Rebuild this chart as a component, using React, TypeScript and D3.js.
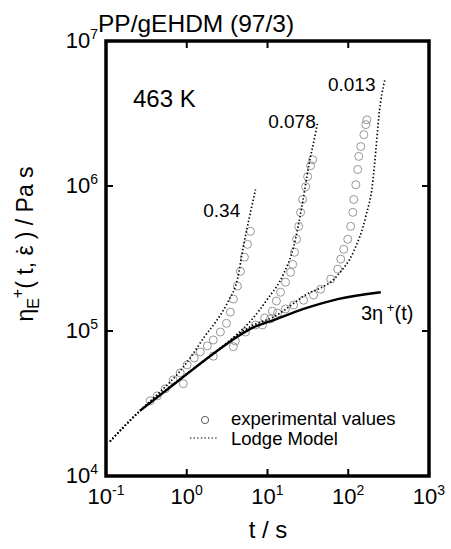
import React from "react";
import * as d3 from "d3";

// ---- data (t [s], eta [Pa s]) ----
const xTicks = [0.1, 1, 10, 100, 1000];
const xTickExp = ["-1", "0", "1", "2", "3"];
const yTicks = [1e4, 1e5, 1e6, 1e7];
const yTickExp = ["4", "5", "6", "7"];

const lve3: [number, number][] = [
  [0.264, 2.82e4], [0.72, 4.36e4], [1.96, 6.73e4], [6.7, 1.06e5],
  [11.9, 1.19e5], [28, 1.42e5], [74, 1.66e5], [253, 1.85e5],
];

const lodge034: [number, number][] = [
  [0.112, 1.73e4], [0.264, 2.82e4], [0.469, 3.81e4], [0.83, 5.31e4],
  [1.17, 6.84e4], [1.65, 9.1e4], [2.32, 1.17e5], [3.28, 1.61e5],
  [4.24, 2.27e5], [5.03, 3.84e5], [5.65, 5.27e5], [6.15, 6.58e5], [7.1, 9.46e5],
];
const lodge0078: [number, number][] = [
  [0.112, 1.73e4], [0.264, 2.82e4], [0.72, 4.39e4], [1.96, 6.73e4],
  [3.47, 8.67e4], [6.15, 1.17e5], [10, 1.66e5], [15.8, 2.47e5],
  [21, 3.78e5], [27.2, 7.7e5], [32.3, 1.36e6], [39.4, 2.33e6], [41.8, 2.77e6],
];
const lodge0013: [number, number][] = [
  [0.112, 1.73e4], [0.264, 2.82e4], [0.72, 4.39e4], [1.96, 6.73e4],
  [6.7, 1.1e5], [11.9, 1.25e5], [28, 1.74e5], [74, 2.43e5], [117, 3.55e5],
  [165, 6.17e5], [201, 1.06e6], [220, 1.78e6], [239, 3.0e6], [284, 5.4e6],
];

const exp034: [number, number][] = [
  [0.352, 3.3e4], [0.431, 3.57e4], [0.541, 3.99e4], [0.679, 4.6e4], [0.83, 5.14e4],
  [0.906, 4.33e4], [1.01, 5.84e4], [1.24, 6.52e4], [1.47, 7.18e4], [1.8, 7.89e4],
  [2.13, 8.67e4], [2.61, 9.84e4], [3.1, 1.13e5], [3.47, 1.35e5], [3.78, 1.66e5],
  [4.24, 2.04e5], [4.62, 2.58e5], [5.18, 3.23e5], [5.65, 3.96e5], [6.15, 4.87e5],
];
const exp0078: [number, number][] = [
  [5.33, 9.84e4], [7.1, 1.1e5], [9.2, 1.23e5], [11.5, 1.37e5], [12.9, 1.61e5],
  [14.5, 1.85e5], [16.7, 2.17e5], [19.3, 2.54e5], [20.5, 2.88e5], [21.6, 3.49e5],
  [22.9, 4.29e5], [24.3, 5.27e5], [25.7, 6.58e5], [27.2, 8.07e5], [29.7, 9.9e5],
  [31.4, 1.16e6], [34.2, 1.38e6], [36.2, 1.52e6],
];
const exp0013: [number, number][] = [
  [2.13, 6.7e4], [3.78, 7.8e4], [4.0, 8.53e4], [8.67, 1.1e5], [10.9, 1.21e5],
  [13.3, 1.33e5], [16.7, 1.42e5], [21, 1.51e5], [28, 1.63e5], [37.2, 1.77e5],
  [45.5, 1.94e5], [60.7, 2.28e5], [74.1, 2.67e5], [80.7, 3.13e5], [88, 3.66e5],
  [98.6, 4.29e5], [107, 5.27e5], [114, 6.58e5], [117, 8.07e5], [124, 1.02e6],
  [131, 1.3e6], [135, 1.6e6], [143, 1.87e6], [156, 2.26e6], [165, 2.65e6], [170, 2.86e6],
];

const rateLabels = [
  { text: "0.34", t: 1.6, eta: 6.1e5 },
  { text: "0.078", t: 10.2, eta: 2.5e6 },
  { text: "0.013", t: 56, eta: 4.5e6 },
];

const FONT = "'Liberation Sans', Arial, Helvetica, sans-serif";

export default function App() {
  const W = 451, H = 549;
  const x = d3.scaleLog().domain([0.1, 1000]).range([106, 429]);
  const y = d3.scaleLog().domain([1e4, 1e7]).range([476, 41]);
  const line = d3
    .line<[number, number]>()
    .x((d) => x(d[0]))
    .y((d) => y(d[1]))
    .curve(d3.curveMonotoneX);

  const left = x.range()[0], right = x.range()[1];
  const top = y.range()[1], bottom = y.range()[0];
  const tickLen = 7;
  const dotted = { fill: "none", stroke: "#000", strokeWidth: 1.7, strokeDasharray: "1.4 2.2" };
  const circ = (data: [number, number][], k: string) =>
    data.map((d, i) => (
      <circle key={k + i} cx={x(d[0])} cy={y(d[1])} r={4} fill="none" stroke="#8a8a8a" strokeWidth={0.9} />
    ));

  return (
    <svg width={W} height={H} style={{ position: "absolute", left: 0, top: 0, background: "#fff" }} fontFamily={FONT}>
      <rect x={0} y={0} width={W} height={H} fill="#fff" />
      {/* title */}
      <text x={98} y={32} fontSize={24.5}>PP/gEHDM (97/3)</text>

      {/* data */}
      {circ(exp034, "a")}
      {circ(exp0078, "b")}
      {circ(exp0013, "c")}
      <path d={line(lodge034) || ""} {...dotted} />
      <path d={line(lodge0078) || ""} {...dotted} />
      <path d={line(lodge0013) || ""} {...dotted} />
      <path d={line(lve3) || ""} fill="none" stroke="#000" strokeWidth={2.4} />

      {/* frame */}
      <rect x={left} y={top} width={right - left} height={bottom - top} fill="none" stroke="#000" strokeWidth={3.5} />
      {xTicks.slice(1, -1).map((t) => (
        <g key={"xt" + t}>
          <line x1={x(t)} x2={x(t)} y1={bottom} y2={bottom - tickLen} stroke="#000" strokeWidth={2} />
          <line x1={x(t)} x2={x(t)} y1={top} y2={top + tickLen} stroke="#000" strokeWidth={2} />
        </g>
      ))}
      {yTicks.slice(1, -1).map((v) => (
        <g key={"yt" + v}>
          <line x1={left} x2={left + tickLen} y1={y(v)} y2={y(v)} stroke="#000" strokeWidth={2} />
          <line x1={right} x2={right - tickLen} y1={y(v)} y2={y(v)} stroke="#000" strokeWidth={2} />
        </g>
      ))}

      {/* tick labels */}
      {xTicks.map((t, i) => (
        <text key={"xl" + t} x={x(t)} y={504} fontSize={22} textAnchor="middle">
          <tspan>10</tspan>
          <tspan dy={-9} fontSize={14}>{xTickExp[i]}</tspan>
        </text>
      ))}
      {yTicks.map((v, i) => (
        <text key={"yl" + v} x={98} y={y(v) + 7} fontSize={22} textAnchor="end">
          <tspan>10</tspan>
          <tspan dy={-9} fontSize={14}>{yTickExp[i]}</tspan>
        </text>
      ))}

      {/* axis titles */}
      <text x={268} y={538} fontSize={24} textAnchor="middle">t / s</text>
      <text transform="translate(33,244) rotate(-90)" fontSize={23} textAnchor="middle">
        <tspan>η</tspan>
        <tspan dy={6} fontSize={16}>E</tspan>
        <tspan dy={-16} fontSize={16}>+</tspan>
        <tspan dy={10}>( t, ε</tspan>
        <tspan dx={-9}>˙</tspan>
        <tspan dx={1}> )  /  Pa s</tspan>
      </text>

      {/* annotations */}
      <text x={133} y={107} fontSize={24}>463 K</text>
      {rateLabels.map((r) => (
        <text key={r.text} x={x(r.t)} y={y(r.eta)} fontSize={19}>{r.text}</text>
      ))}
      <text x={361} y={320} fontSize={20}>
        <tspan>3η</tspan>
        <tspan dy={-8} fontSize={13}> +</tspan>
        <tspan dy={8}>(t)</tspan>
      </text>

      {/* legend */}
      <circle cx={205} cy={420} r={3.6} fill="none" stroke="#444" strokeWidth={0.9} />
      <text x={231} y={425} fontSize={18.5}>experimental values</text>
      <line x1={190} x2={218} y1={438} y2={438} {...dotted} strokeWidth={1.2} />
      <text x={231} y={445} fontSize={18.5}>Lodge Model</text>
    </svg>
  );
}
